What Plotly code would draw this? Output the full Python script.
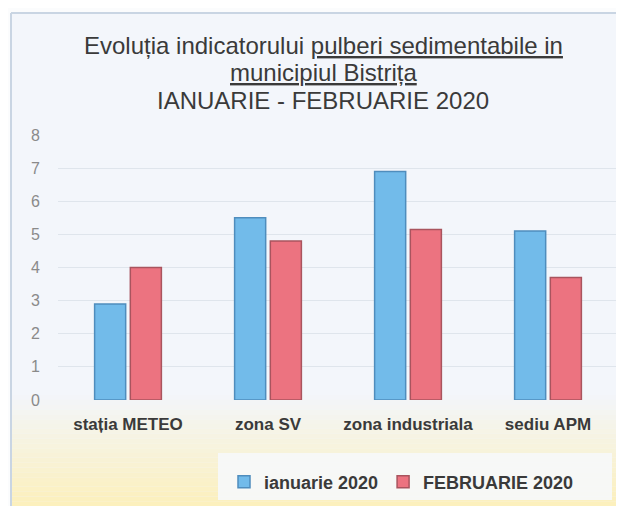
import plotly.graph_objects as go

categories = ["stația METEO", "zona SV", "zona industriala", "sediu APM"]
ianuarie = [2.9, 5.5, 6.9, 5.1]
februarie = [4.0, 4.8, 5.15, 3.7]
y_ticks = [0, 1, 2, 3, 4, 5, 6, 7, 8]
series_names = ["ianuarie 2020", "FEBRUARIE 2020"]
title_lines = [
    "Evoluția indicatorului <u>pulberi sedimentabile in</u>",
    "<u>municipiul Bistrița</u>",
    "IANUARIE - FEBRUARIE 2020",
]

# page body has an 8px default margin; size the figure to fit the window
OFF = 8
W, H = 624 - OFF, 506 - OFF
L, R, T, B = 50, 6, 127, 106
PW, PH = W - L - R, H - T - B


def px(x):
    # x in window pixels -> paper coordinate
    return (x - OFF - L) / PW


def py(y):
    # y in window pixels -> paper coordinate
    return (H - B - (y - OFF)) / PH


fig = go.Figure()
fig.add_trace(go.Bar(x=categories, y=ianuarie, name=series_names[0],
                     marker=dict(color="#72bbea", line=dict(color="#4f8dbd", width=1.5))))
fig.add_trace(go.Bar(x=categories, y=februarie, name=series_names[1],
                     marker=dict(color="#ec7380", line=dict(color="#a9545e", width=1.5))))

shapes = []
# gradient bottom background
top_c = (243, 246, 251)
bot_c = (253, 240, 185)
y0 = 395
n = 24
for i in range(n):
    ya = y0 + (506 + 5 - y0) * i / n
    yb = y0 + (506 + 5 - y0) * (i + 1) / n
    t = (i + 0.5) / n
    c = tuple(int(top_c[k] + (bot_c[k] - top_c[k]) * t) for k in range(3))
    shapes.append(dict(type="rect", xref="paper", yref="paper", layer="below",
                       x0=px(0), x1=px(630), y0=py(ya), y1=py(yb),
                       fillcolor="rgb(%d,%d,%d)" % c, line=dict(width=0)))
# legend box
shapes.append(dict(type="rect", xref="paper", yref="paper", layer="below",
                   x0=px(218), x1=px(612), y0=py(453), y1=py(500),
                   fillcolor="rgba(246,248,251,0.9)", line=dict(width=0)))
# outer white margin + frame
shapes.append(dict(type="rect", xref="paper", yref="paper", layer="below",
                   x0=px(0), x1=px(11), y0=py(0), y1=py(511),
                   fillcolor="#fbfcfd", line=dict(width=0)))
shapes.append(dict(type="rect", xref="paper", yref="paper", layer="below",
                   x0=px(0), x1=px(630), y0=py(0), y1=py(13),
                   fillcolor="#fbfcfd", line=dict(width=0)))
shapes.append(dict(type="line", xref="paper", yref="paper", layer="below",
                   x0=px(11), x1=px(11), y0=py(13), y1=py(511),
                   line=dict(color="#c9d5e3", width=2)))
shapes.append(dict(type="line", xref="paper", yref="paper", layer="below",
                   x0=px(11), x1=px(630), y0=py(13), y1=py(13),
                   line=dict(color="#c9d5e3", width=2)))

annotations = []
for line, yc in zip(title_lines, [45, 72, 100]):
    annotations.append(dict(text=line, xref="paper", yref="paper", x=px(323), y=py(yc),
                            xanchor="center", yanchor="middle", showarrow=False,
                            font=dict(size=24, color="#3a3a3a")))

fig.update_layout(
    width=W, height=H,
    margin=dict(l=L, r=R, t=T, b=B, autoexpand=False),
    paper_bgcolor="#f3f6fb",
    plot_bgcolor="rgba(0,0,0,0)",
    font=dict(family="Liberation Sans, Arial, sans-serif", color="#333333"),
    barmode="group",
    bargap=0.49,
    bargroupgap=0.13,
    showlegend=True,
    legend=dict(orientation="h", x=px(224), xanchor="left", y=py(482), yanchor="middle",
                bgcolor="rgba(0,0,0,0)", font=dict(size=18, color="#3a3a3a", weight="bold"),
                itemwidth=30, traceorder="normal"),
    shapes=shapes,
    annotations=annotations,
)
fig.update_xaxes(showgrid=False, showline=False, zeroline=False,
                 tickfont=dict(size=17, color="#3a3a3a", weight="bold"),
                 ticks="outside", ticklen=9, tickcolor="rgba(0,0,0,0)")
fig.update_yaxes(range=[0, 8], tickvals=y_ticks, showgrid=True, gridcolor="#dfe5ec",
                 gridwidth=1, zeroline=False, showline=False,
                 tickfont=dict(size=16, color="#8a8a8a"),
                 ticks="outside", ticklen=14, tickcolor="rgba(0,0,0,0)")

fig.write_html("out.html")
